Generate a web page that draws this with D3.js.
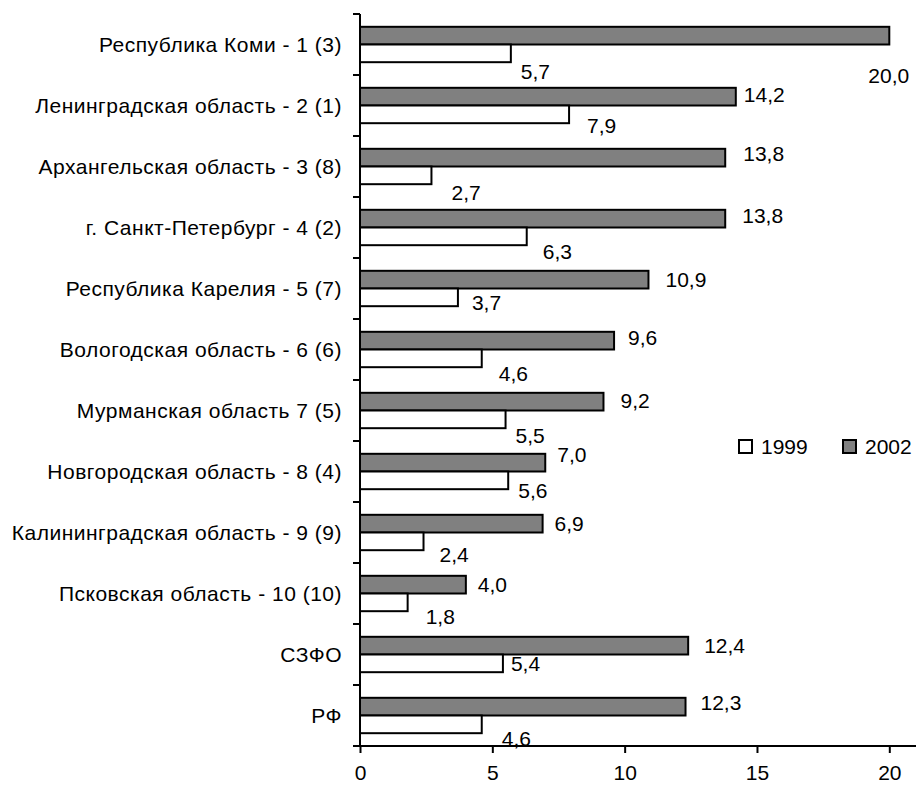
<!DOCTYPE html>
<html>
<head>
<meta charset="utf-8">
<script src="https://cdn.jsdelivr.net/npm/d3@7"></script>
<style>
  html, body { margin: 0; padding: 0; background: #fff; }
  svg text { font-family: "Liberation Sans", Arial, sans-serif; fill: #000; }
</style>
</head>
<body>
<div id="vis"></div>
<script>
// categories, top to bottom
const regions = [
  "Республика Коми - 1 (3)",
  "Ленинградская область - 2 (1)",
  "Архангельская область - 3 (8)",
  "г. Санкт-Петербург - 4 (2)",
  "Республика Карелия - 5 (7)",
  "Вологодская область - 6 (6)",
  "Мурманская область 7 (5)",
  "Новгородская область - 8 (4)",
  "Калининградская область - 9 (9)",
  "Псковская область - 10 (10)",
  "СЗФО",
  "РФ"
];

// series values
const values2002 = [20.0, 14.2, 13.8, 13.8, 10.9, 9.6, 9.2, 7.0, 6.9, 4.0, 12.4, 12.3];
const values1999 = [5.7, 7.9, 2.7, 6.3, 3.7, 4.6, 5.5, 5.6, 2.4, 1.8, 5.4, 4.6];

const seriesNames = ["1999", "2002"];
const xTicks = [0, 5, 10, 15, 20];

// label nudges (px) from the bar end / bar middle, as placed in the original
const nudge2002 = [[-21, 40], [8, -2], [18, -4], [17, -3], [17, 0], [14, -3], [17, -1], [12, -8], [12, 0], [12, 0], [16, 0], [15, -4]];
const nudge1999 = [[10, 18], [18, 11], [20, 17], [16, 15], [14, 5], [17, 15], [10, 16], [10, 10], [16, 13], [18, 14], [8, 0], [20, 14]];

const width = 916;
const height = 786;
const margin = { top: 14, left: 360, bottom: 40 };
const fontSize = 21;

const fmt = (v) => v.toFixed(1).replace(".", ",");

const svg = d3.select("#vis")
  .append("svg")
  .attr("width", width)
  .attr("height", height);

const x = d3.scaleLinear()
  .domain([0, 20])
  .range([margin.left, 889.3]);

const y = d3.scaleBand()
  .domain(regions)
  .range([margin.top, height - margin.bottom])
  .paddingInner(0)
  .paddingOuter(0);

const barH = y.bandwidth() * 0.29;
const barTop = (d) => y(d) + y.bandwidth() / 2 - barH;

// bars: 2002 (grey) on top, 1999 (white) below
svg.append("g")
  .selectAll("rect")
  .data(regions)
  .join("rect")
  .attr("x", x(0))
  .attr("y", (d) => barTop(d))
  .attr("width", (d, i) => x(values2002[i]) - x(0))
  .attr("height", barH)
  .attr("fill", "#808080")
  .attr("stroke", "#000")
  .attr("stroke-width", 2);

svg.append("g")
  .selectAll("rect")
  .data(regions)
  .join("rect")
  .attr("x", x(0))
  .attr("y", (d) => barTop(d) + barH)
  .attr("width", (d, i) => x(values1999[i]) - x(0))
  .attr("height", barH)
  .attr("fill", "#fff")
  .attr("stroke", "#000")
  .attr("stroke-width", 2);

// value labels
svg.append("g")
  .selectAll("text")
  .data(regions)
  .join("text")
  .attr("x", (d, i) => x(values2002[i]) + nudge2002[i][0])
  .attr("y", (d, i) => barTop(d) + barH / 2 + nudge2002[i][1])
  .attr("dy", "0.35em")
  .style("font-size", fontSize + "px")
  .text((d, i) => fmt(values2002[i]));

svg.append("g")
  .selectAll("text")
  .data(regions)
  .join("text")
  .attr("x", (d, i) => x(values1999[i]) + nudge1999[i][0])
  .attr("y", (d, i) => barTop(d) + barH * 1.5 + nudge1999[i][1])
  .attr("dy", "0.35em")
  .style("font-size", fontSize + "px")
  .text((d, i) => fmt(values1999[i]));

// y axis: line, ticks at band edges, category labels
const yAxis = svg.append("g");
yAxis.append("line")
  .attr("x1", x(0)).attr("x2", x(0))
  .attr("y1", margin.top).attr("y2", height - margin.bottom)
  .attr("stroke", "#000").attr("stroke-width", 2);

const edges = regions.map((d) => y(d)).concat([height - margin.bottom]);
yAxis.selectAll(".tick")
  .data(edges)
  .join("line")
  .attr("class", "tick")
  .attr("x1", x(0) - 7).attr("x2", x(0))
  .attr("y1", (d) => d).attr("y2", (d) => d)
  .attr("stroke", "#000").attr("stroke-width", 2);

yAxis.selectAll("text")
  .data(regions)
  .join("text")
  .attr("x", 342)
  .attr("y", (d) => y(d) + y.bandwidth() / 2)
  .attr("dy", "0.35em")
  .attr("text-anchor", "end")
  .style("font-size", fontSize + "px")
  .style("letter-spacing", "0.5px")
  .text((d) => d);

// x axis
const xAxis = svg.append("g")
  .attr("transform", `translate(0,${height - margin.bottom})`)
  .call(d3.axisBottom(x).tickValues(xTicks).tickSize(7).tickPadding(12).tickFormat(d3.format("d")));
xAxis.select(".domain").remove();
xAxis.append("line")
  .attr("x1", x(0)).attr("x2", width)
  .attr("stroke", "#000").attr("stroke-width", 2);
xAxis.selectAll(".tick line").attr("stroke", "#000").attr("stroke-width", 2);
xAxis.selectAll(".tick text")
  .style("font-size", fontSize + "px")
  .style("font-family", "'Liberation Sans', Arial, sans-serif");

// legend
const legend = svg.append("g").attr("transform", "translate(739,440)");
const legendFill = { "1999": "#fff", "2002": "#808080" };
const item = legend.selectAll("g")
  .data(seriesNames)
  .join("g")
  .attr("transform", (d, i) => `translate(${i * 104},0)`);
item.append("rect")
  .attr("width", 13).attr("height", 13)
  .attr("fill", (d) => legendFill[d])
  .attr("stroke", "#000").attr("stroke-width", 2);
item.append("text")
  .attr("x", 22).attr("y", 6.5)
  .attr("dy", "0.35em")
  .style("font-size", fontSize + "px")
  .text((d) => d);
</script>
</body>
</html>
